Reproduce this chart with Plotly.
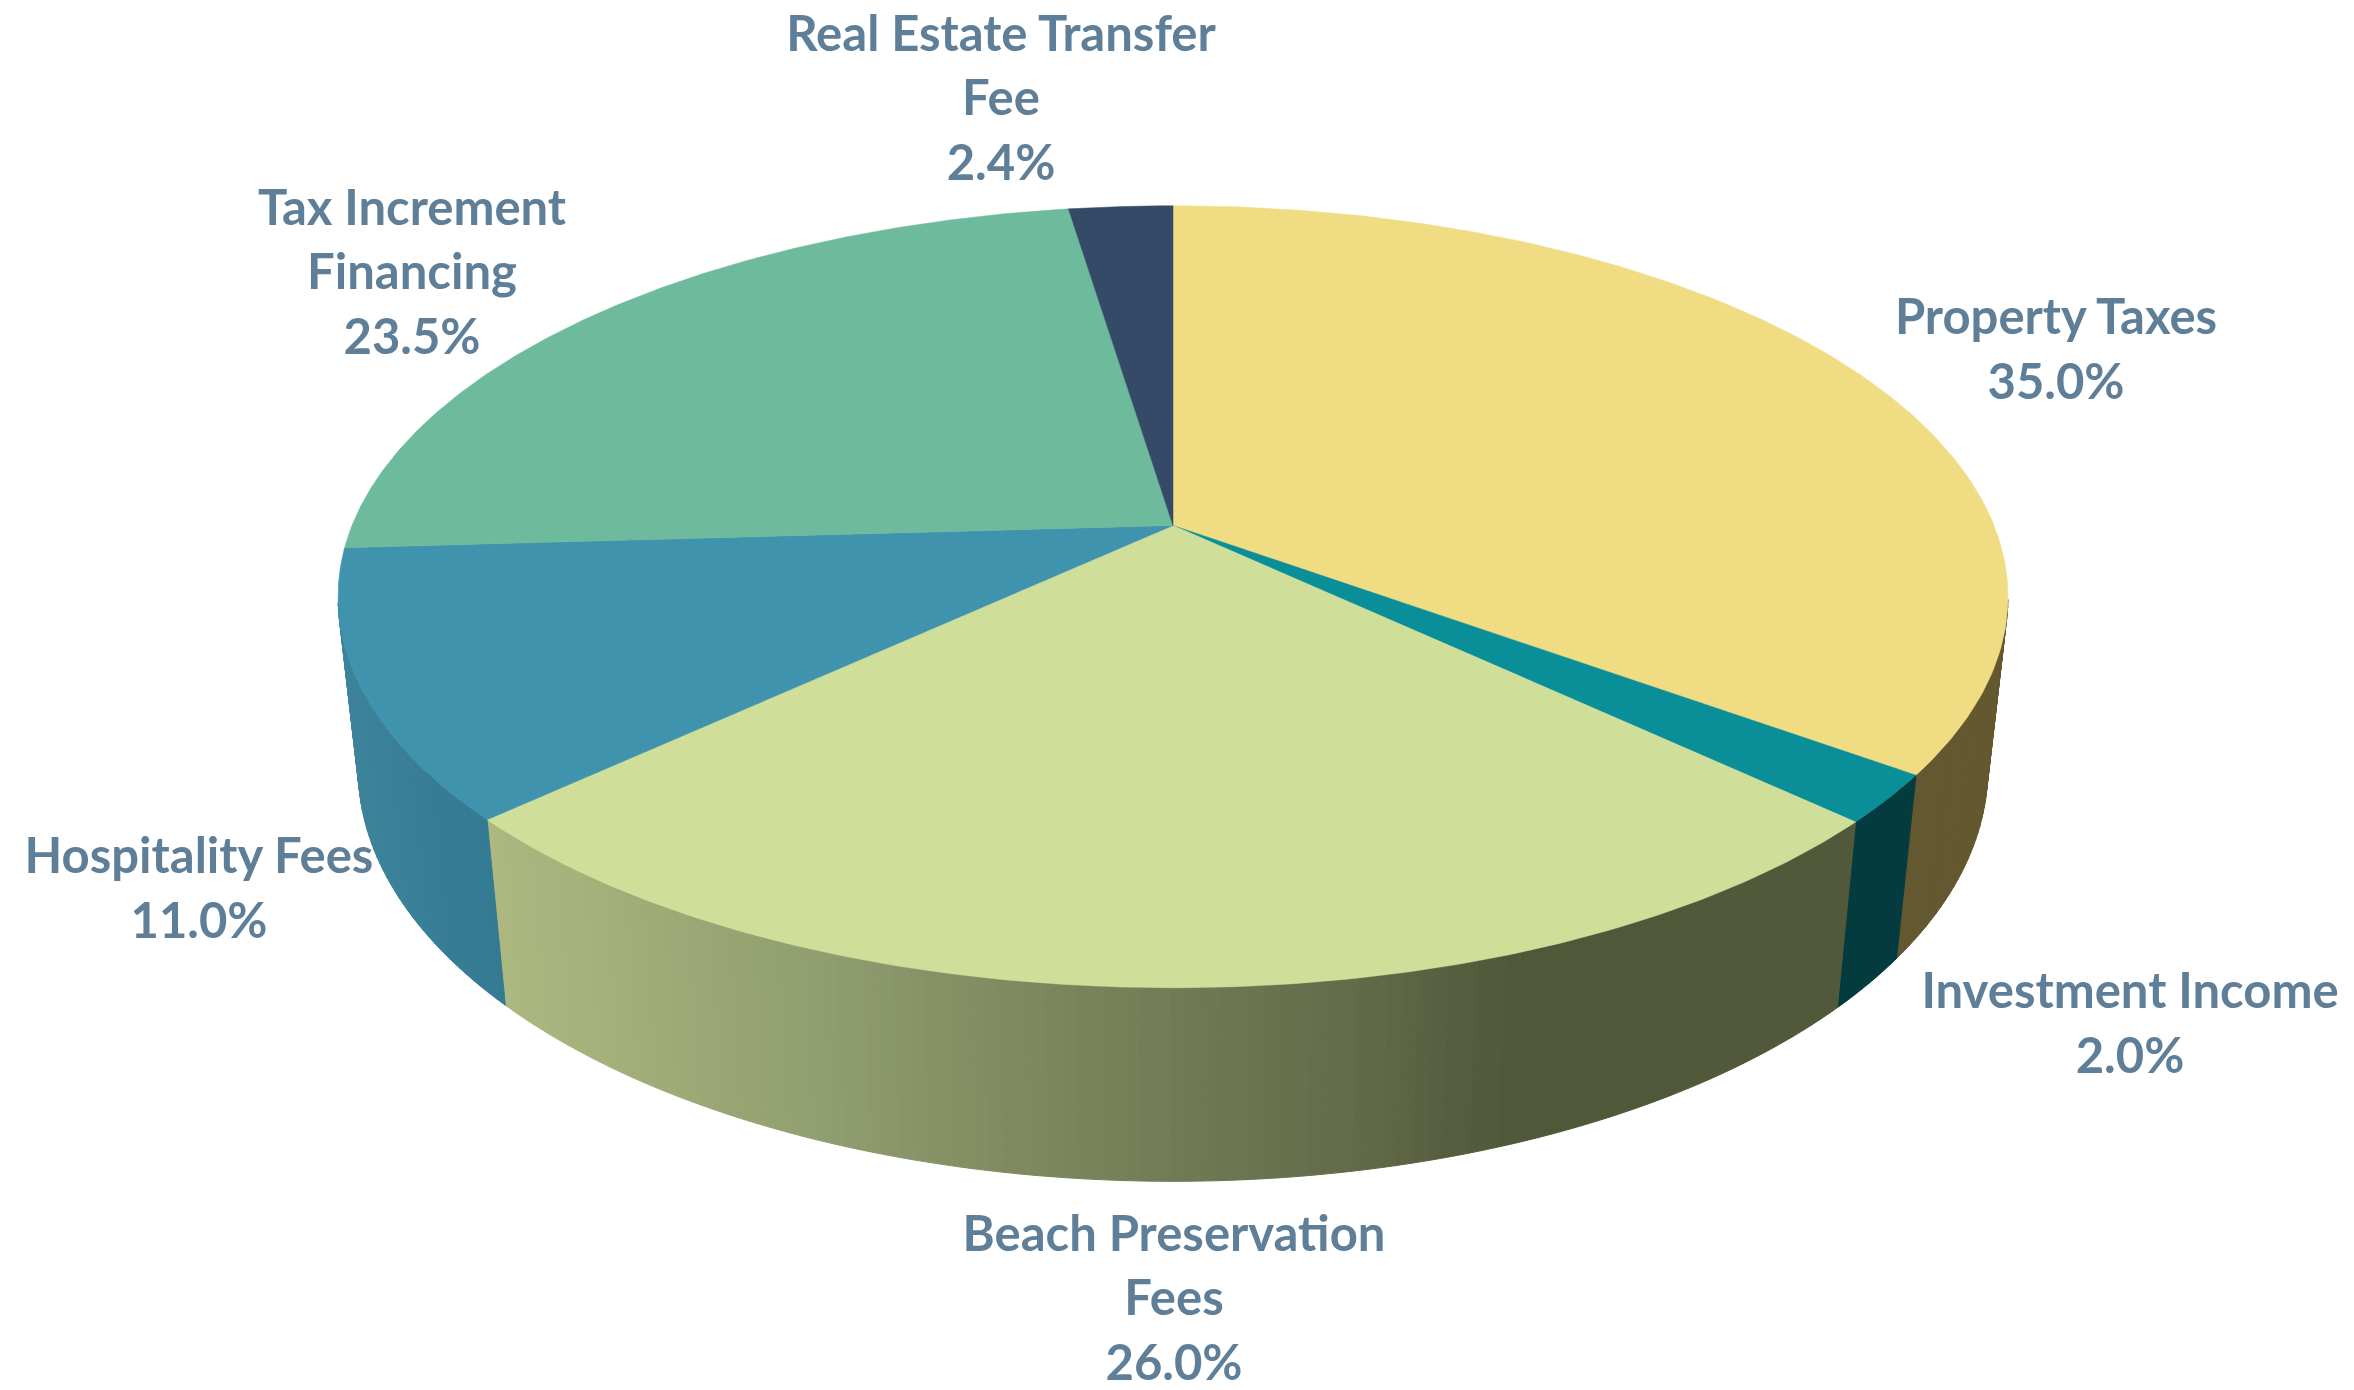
import numpy as np
import plotly.graph_objects as go

categories = ["Property Taxes", "Investment Income", "Beach Preservation Fees",
              "Hospitality Fees", "Tax Increment Financing", "Real Estate Transfer Fee"]
values = [35.0, 2.0, 26.0, 11.0, 23.5, 2.4]
top_colors = ["#F0DC82", "#0A8F98", "#CFDF9A", "#3F93AD", "#6DBA9C", "#344A66"]
label_lines = [["Property Taxes"], ["Investment Income"], ["Beach Preservation", "Fees"],
               ["Hospitality Fees"], ["Tax Increment", "Financing"], ["Real Estate Transfer", "Fee"]]
label_x = [2056, 2130, 1174, 199, 412, 1001]
label_y = [354, 1028, 1303, 893, 277, 103]
LINE_STEP = 64.5
TEXT_COLOR = "#5F7F99"

# Perspective projection of a unit disc of thickness 1
CX, CY = 1173.0, 525.5
A, B, C, K, M = 821.0, 378.0, 174.0, 0.1823, 0.024


def project(theta, z=0.0):
    u, v = np.sin(theta), np.cos(theta)
    d = 1 + K * v + M * z
    return CX + A * u / d, CY + (-B * v + C * z) / d


def rgb(h):
    return np.array([int(h[i:i + 2], 16) for i in (1, 3, 5)], float)


# Side shading: horizontal gradient stops in screen space per slice
side_stops = {
    0: ([1900, 2010], ["#63582F", "#63582F"]),
    1: ([1840, 1920], ["#043B3E", "#043B3E"]),
    2: ([490, 600, 844, 1017, 1189, 1361, 1447, 1516, 1860],
        ["#ADB981", "#A4B17B", "#8F9C6E", "#7F8A60", "#707A55", "#626B49", "#585F41", "#50583A", "#525A3B"]),
    3: ([340, 440, 510], ["#3E859C", "#377D95", "#347A92"]),
}

fig = go.Figure()
fractions = np.array(values) / sum(values)
edges = np.concatenate([[0], np.cumsum(fractions)]) * 2 * np.pi

# Visible outer walls (lower part of the disc), drawn as thin gradient strips
for i, (xs, cs) in side_stops.items():
    n = max(4, int((edges[i + 1] - edges[i]) / (2 * np.pi) * 400))
    t = np.linspace(edges[i], edges[i + 1], n + 1)
    stops = np.array([rgb(c) for c in cs])
    for j in range(n):
        th = np.array([t[j], t[j + 1]])
        if np.cos(th).min() > -0.2:
            continue
        x0, y0 = project(th, 0)
        x1, y1 = project(th, 1)
        xm = (x0.mean() + x1.mean()) / 2
        col = [np.interp(xm, xs, stops[:, c]) for c in range(3)]
        col = "rgb(%d,%d,%d)" % tuple(col)
        fig.add_trace(go.Scatter(
            x=[x0[0], x0[1], x1[1], x1[0], x0[0]], y=[y0[0], y0[1], y1[1], y1[0], y0[0]],
            mode="lines", fill="toself", fillcolor=col, line=dict(color=col, width=1),
            hoverinfo="skip", showlegend=False))

# Top faces
for i, name in enumerate(categories):
    t = np.linspace(edges[i], edges[i + 1], 200)
    x, y = project(t, 0)
    fig.add_trace(go.Scatter(
        x=np.r_[CX, x, CX], y=np.r_[CY, y, CY], mode="lines", fill="toself",
        fillcolor=top_colors[i], line=dict(color=top_colors[i], width=0.5),
        name=name, hoverinfo="name", showlegend=False))

# Labels, one text mark per line
for i in range(len(categories)):
    lines = label_lines[i] + [f"{values[i]:.1f}%"]
    for k, line in enumerate(lines):
        fig.add_trace(go.Scatter(
            x=[label_x[i]], y=[label_y[i] + (k - (len(lines) - 1) / 2) * LINE_STEP],
            mode="text", text=[f"<b>{line}</b>"], textposition="middle center",
            textfont=dict(family="Lato", size=49, color=TEXT_COLOR),
            hoverinfo="skip", showlegend=False, cliponaxis=False))

fig.update_layout(
    width=2354, height=1390, margin=dict(l=0, r=0, t=0, b=0),
    paper_bgcolor="white", plot_bgcolor="white", showlegend=False,
    xaxis=dict(range=[0, 2354], visible=False, fixedrange=True),
    yaxis=dict(range=[1390, 0], visible=False, fixedrange=True),
)
fig.write_html("out.html", config={"displayModeBar": False},
               post_script="document.body.style.margin='0';document.documentElement.style.overflow='hidden';")
